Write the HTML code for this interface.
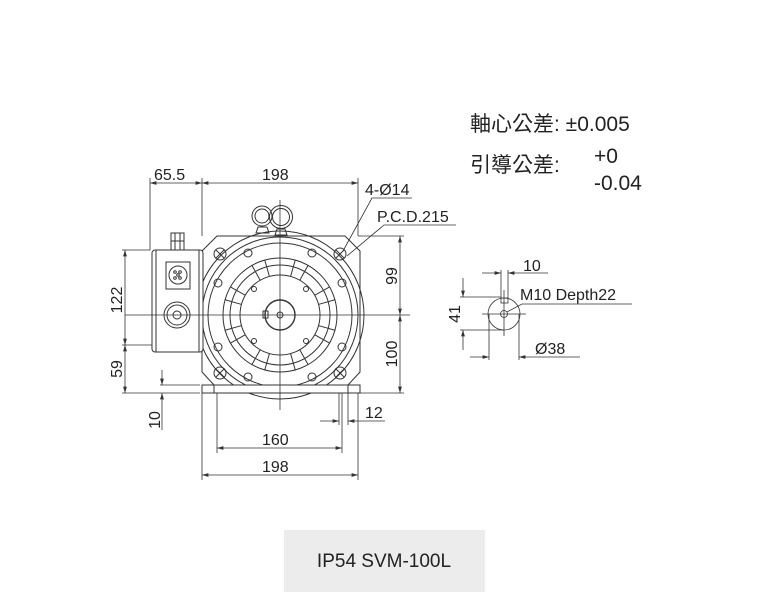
<!DOCTYPE html>
<html><head><meta charset="utf-8"><style>
html,body{margin:0;padding:0;background:#fff;}
svg{display:block;}
text{font-family:"Liberation Sans","Noto Sans CJK TC",sans-serif;fill:#222;}
</style></head><body>
<svg width="768" height="611" viewBox="0 0 768 611" xmlns="http://www.w3.org/2000/svg">
<defs>
<marker id="a" viewBox="0 0 10 6" refX="10" refY="3" markerWidth="8" markerHeight="5" orient="auto-start-reverse"><path d="M0,0 L10,3 L0,6 z" fill="#333"/></marker>
</defs>
<g stroke="#333" stroke-width="1" fill="none">
<!-- flange -->
<path d="M217,236 L345,236 L360,251 L360,372 L348,385 L214,385 L202,372 L202,251 Z" fill="#fff"/>
<circle cx="280" cy="315" r="84"/>
<circle cx="280" cy="315" r="78"/>
<circle cx="280" cy="315" r="72"/>
<circle cx="280" cy="315" r="57"/>
<circle cx="280" cy="315" r="50"/>
<circle cx="280" cy="315" r="40"/>
<circle cx="280" cy="315" r="15" stroke-width="1.4"/>
<circle cx="280" cy="315" r="3"/>
<rect x="263" y="311" width="5" height="7"/>
<!-- spokes -->
<g transform="rotate(22.5 280 315)">
<g id="sp">
<line x1="275" y1="275" x2="273" y2="258"/><line x1="285" y1="275" x2="287" y2="258"/>
</g>
<use href="#sp" transform="rotate(45 280 315)"/><use href="#sp" transform="rotate(90 280 315)"/><use href="#sp" transform="rotate(135 280 315)"/>
<use href="#sp" transform="rotate(180 280 315)"/><use href="#sp" transform="rotate(225 280 315)"/><use href="#sp" transform="rotate(270 280 315)"/><use href="#sp" transform="rotate(315 280 315)"/>
</g>
<!-- holes on r=70 -->
<circle cx="248" cy="253" r="4"/><circle cx="312" cy="253" r="4"/>
<circle cx="218" cy="283" r="4"/><circle cx="342" cy="283" r="4"/>
<circle cx="218" cy="347" r="4"/><circle cx="342" cy="347" r="4"/>
<circle cx="248" cy="377" r="4"/><circle cx="312" cy="377" r="4"/>
<circle cx="254" cy="289" r="2.5"/><circle cx="306" cy="289" r="2.5"/>
<circle cx="254" cy="341" r="2.5"/><circle cx="306" cy="341" r="2.5"/>
<!-- corner X holes -->
<g id="xh"><circle cx="220" cy="254" r="6"/><line x1="216" y1="250" x2="224" y2="258"/><line x1="224" y1="250" x2="216" y2="258"/></g>
<use href="#xh" transform="translate(120 0)"/><use href="#xh" transform="translate(0 119)"/><use href="#xh" transform="translate(120 119)"/>
<!-- eye bolts -->
<circle cx="262" cy="216" r="10"/><circle cx="262" cy="216" r="7"/>
<circle cx="281" cy="217" r="11.5"/><circle cx="281" cy="217" r="8.5"/>
<path d="M256,233 L258,227 L267,227 L269,233 Z"/><path d="M275,235 L277,229 L285,229 L287,235 Z"/>
<!-- feet -->
<rect x="202" y="385" width="158" height="8" fill="#fff"/>
<line x1="214" y1="385" x2="214" y2="393"/><line x1="348" y1="385" x2="348" y2="393"/>
<!-- terminal box -->
<rect x="152" y="250" width="51" height="102" rx="3" fill="#fff"/>
<line x1="156" y1="250" x2="156" y2="352"/><line x1="199" y1="250" x2="199" y2="352"/>
<rect x="171" y="233" width="13" height="17"/><line x1="171" y1="241" x2="184" y2="241"/><line x1="175" y1="233" x2="175" y2="250"/><line x1="180" y1="233" x2="180" y2="250"/>
<rect x="166" y="262" width="24" height="27"/><circle cx="178" cy="275" r="9"/>
<circle cx="175" cy="272" r="1.3"/><circle cx="180" cy="272" r="1.3"/><circle cx="175" cy="278" r="1.3"/><circle cx="180" cy="278" r="1.3"/><circle cx="178" cy="275" r="1.3"/>
<circle cx="177" cy="315" r="13"/><circle cx="177" cy="315" r="10"/><circle cx="177" cy="315" r="4"/>
</g>
<g stroke="#333" stroke-width="0.8" fill="none">
<!-- center lines -->
<line x1="280" y1="200" x2="280" y2="410"/>
<line x1="125" y1="315" x2="410" y2="315"/>
<!-- top dims -->
<line x1="150" y1="178" x2="150" y2="250"/><line x1="202" y1="178" x2="202" y2="236"/><line x1="358" y1="178" x2="358" y2="236"/>
<line x1="150" y1="183" x2="202" y2="183" marker-start="url(#a)" marker-end="url(#a)"/>
<line x1="202" y1="183" x2="358" y2="183" marker-start="url(#a)" marker-end="url(#a)"/>
<!-- left dims -->
<line x1="122" y1="250" x2="150" y2="250"/><line x1="122" y1="345" x2="152" y2="345"/><line x1="122" y1="393" x2="200" y2="393"/>
<line x1="125" y1="250" x2="125" y2="345" marker-start="url(#a)" marker-end="url(#a)"/>
<line x1="125" y1="345" x2="125" y2="393" marker-start="url(#a)" marker-end="url(#a)"/>
<line x1="160" y1="385" x2="200" y2="385"/>
<line x1="162" y1="370" x2="162" y2="385" marker-end="url(#a)"/>
<line x1="162" y1="430" x2="162" y2="393" marker-end="url(#a)"/>
<!-- right dims -->
<line x1="358" y1="236" x2="404" y2="236"/><line x1="360" y1="393" x2="404" y2="393"/>
<line x1="400" y1="236" x2="400" y2="315" marker-start="url(#a)" marker-end="url(#a)"/>
<line x1="400" y1="315" x2="400" y2="393" marker-start="url(#a)" marker-end="url(#a)"/>
<!-- bottom dims -->
<line x1="202" y1="393" x2="202" y2="480"/><line x1="358" y1="393" x2="358" y2="480"/>
<line x1="217" y1="393" x2="217" y2="453"/><line x1="342" y1="393" x2="342" y2="453"/>
<line x1="339" y1="393" x2="339" y2="425"/><line x1="348" y1="393" x2="348" y2="425"/>
<line x1="320" y1="421" x2="339" y2="421" marker-end="url(#a)"/>
<line x1="385" y1="421" x2="348" y2="421" marker-end="url(#a)"/>
<line x1="217" y1="448" x2="342" y2="448" marker-start="url(#a)" marker-end="url(#a)"/>
<line x1="202" y1="475" x2="358" y2="475" marker-start="url(#a)" marker-end="url(#a)"/>
<!-- leaders -->
<polyline points="343,251 372,198 412,198"/>
<polyline points="347,256 384,225 456,225"/>
<!-- shaft detail -->
<circle cx="504" cy="314" r="16" fill="#fff"/>
<circle cx="504" cy="314" r="3.5"/>
<rect x="501" y="298" width="7" height="5"/>
<line x1="482" y1="314" x2="526" y2="314"/><line x1="504" y1="290" x2="504" y2="336"/>
<line x1="501" y1="270" x2="501" y2="298"/><line x1="508" y1="270" x2="508" y2="298"/>
<line x1="482" y1="273" x2="501" y2="273" marker-end="url(#a)"/>
<line x1="548" y1="273" x2="508" y2="273" marker-end="url(#a)"/>
<line x1="460" y1="297" x2="501" y2="297"/><line x1="460" y1="330" x2="504" y2="330"/>
<line x1="463" y1="278" x2="463" y2="297" marker-end="url(#a)"/>
<line x1="463" y1="350" x2="463" y2="330" marker-end="url(#a)"/>
<line x1="489" y1="314" x2="489" y2="360"/><line x1="519" y1="314" x2="519" y2="360"/>
<line x1="470" y1="357" x2="489" y2="357" marker-end="url(#a)"/>
<line x1="580" y1="357" x2="519" y2="357" marker-end="url(#a)"/>
<polyline points="507,312 522,304 632,304"/>
</g>
<g font-size="16">
<text x="154" y="180">65.5</text>
<text x="262" y="180">198</text>
<text x="365" y="195">4-Ø14</text>
<text x="377" y="222">P.C.D.215</text>
<text transform="translate(122 300) rotate(-90)" text-anchor="middle">122</text>
<text transform="translate(122 369) rotate(-90)" text-anchor="middle">59</text>
<text transform="translate(160 420) rotate(-90)" text-anchor="middle">10</text>
<text transform="translate(397 276) rotate(-90)" text-anchor="middle">99</text>
<text transform="translate(397 354) rotate(-90)" text-anchor="middle">100</text>
<text x="365" y="418">12</text>
<text x="262" y="445">160</text>
<text x="262" y="472">198</text>
<text x="523" y="271">10</text>
<text x="520" y="300">M10 Depth22</text>
<text transform="translate(460 314) rotate(-90)" text-anchor="middle">41</text>
<text x="535" y="354">Ø38</text>
</g>
<g font-size="21">
<text x="470" y="131">軸心公差: ±0.005</text>
<text x="470" y="172">引導公差:</text>
<text x="594" y="163">+0</text>
<text x="594" y="190">-0.04</text>
</g>
<rect x="284" y="530" width="201" height="62" fill="#ececec"/>
<text x="384" y="567" font-size="19" text-anchor="middle">IP54 SVM-100L</text>
</svg>
</body></html>
